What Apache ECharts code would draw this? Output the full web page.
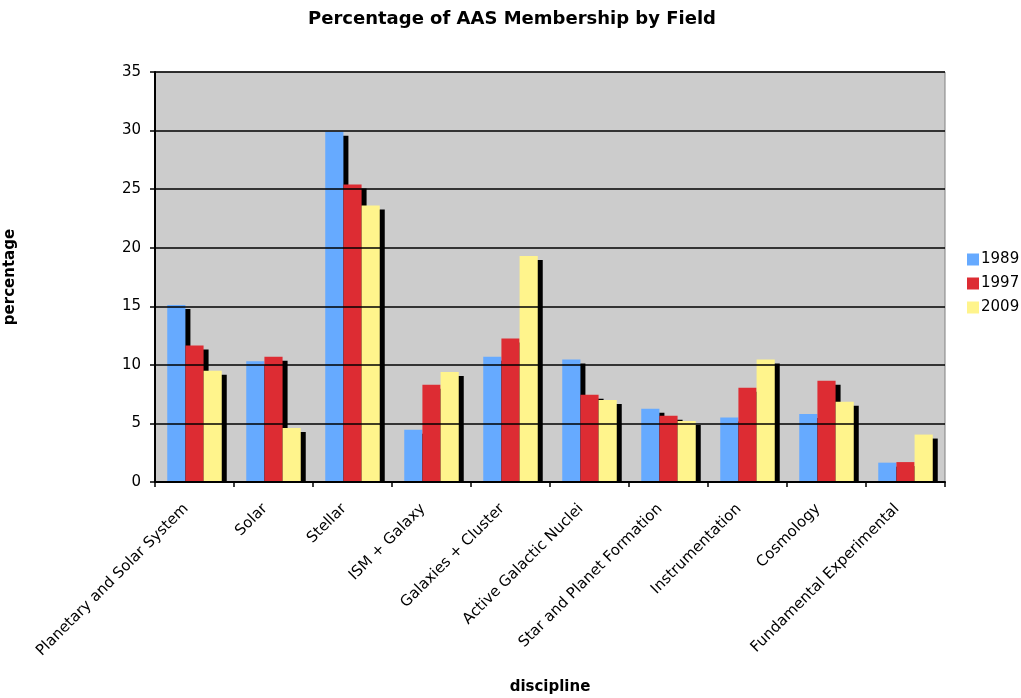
<!DOCTYPE html>
<html><head><meta charset="utf-8">
<script src="https://cdn.jsdelivr.net/npm/echarts@6/dist/echarts.min.js"></script>
<style>html,body{margin:0;padding:0;background:#fff}#c{width:1021px;height:698px}</style>
</head><body><div id="c"></div>
<script>
const categories = ["Planetary and Solar System","Solar","Stellar","ISM + Galaxy","Galaxies + Cluster","Active Galactic Nuclei","Star and Planet Formation","Instrumentation","Cosmology","Fundamental Experimental"];
const years = ["1989","1997","2009"];
const v1989 = [15.1,10.3,29.9,4.45,10.7,10.45,6.25,5.5,5.8,1.65];
const v1997 = [11.65,10.7,25.4,8.3,12.25,7.45,5.65,8.05,8.65,1.7];
const v2009 = [9.5,4.6,23.6,9.4,19.3,7.0,5.2,10.45,6.85,4.05];
const yTicks = [0,5,10,15,20,25,30,35];
const colors = ['#66aaff','#dd2c33','#fff48c'];
const font = '"DejaVu Sans", Verdana, sans-serif';
const chart = echarts.init(document.getElementById('c'));
const mk = (name, data, i) => ({
  name, type:'bar', data, barGap:'0%', barCategoryGap:'31%',
  itemStyle:{color:colors[i], borderWidth:0, shadowColor:'#000', shadowOffsetX:5, shadowOffsetY:4, shadowBlur:0},
  emphasis:{disabled:true}, animation:false
});
chart.setOption({
  animation:false,
  title:{text:'Percentage of AAS Membership by Field', left:507, top:5, textAlign:'center',
    textStyle:{fontFamily:font, fontSize:18, fontWeight:'bold', color:'#000'}},
  legend:{orient:'vertical', left:962, top:247, itemWidth:12, itemHeight:12, itemGap:9,
    icon:'rect', textStyle:{fontFamily:font, fontSize:15, color:'#000', padding:[0,0,0,-3]},
    data:years},
  grid:{left:155, right:76, top:72, bottom:216, outerBoundsMode:'none', containLabel:false,
    show:true, backgroundColor:'#cccccc', borderColor:'#808080', borderWidth:1},
  xAxis:{type:'category', data:categories, z:10,
    axisLine:{show:true, lineStyle:{color:'#000', width:2}},
    axisTick:{show:true, alignWithLabel:false, length:5, lineStyle:{color:'#000', width:1.5}},
    axisLabel:{rotate:45, interval:0, fontFamily:font, fontSize:15, color:'#000', margin:16, padding:[0,12,0,0]},
    name:'discipline', nameLocation:'middle', nameGap:198,
    nameTextStyle:{fontFamily:font, fontSize:15, fontWeight:'bold', color:'#000'}},
  yAxis:{type:'value', min:0, max:35, interval:5, z:10,
    axisLine:{show:true, lineStyle:{color:'#000', width:2}},
    axisTick:{show:true, length:5, lineStyle:{color:'#000', width:1.5}},
    axisLabel:{fontFamily:font, fontSize:15, color:'#000', margin:14,
      formatter:(v)=> yTicks.includes(v) ? String(v) : ''},
    splitLine:{show:true, lineStyle:{color:'#000', width:1.5}},
    name:'percentage', nameLocation:'middle', nameGap:137, nameRotate:90,
    nameTextStyle:{fontFamily:font, fontSize:15, fontWeight:'bold', color:'#000'}},
  graphic:[{type:'rect', z:5, shape:{x:150, y:483, width:800, height:6}, style:{fill:'#fff'}, silent:true}],
  series:[mk(years[0], v1989, 0), mk(years[1], v1997, 1), mk(years[2], v2009, 2)]
});
</script></body></html>
